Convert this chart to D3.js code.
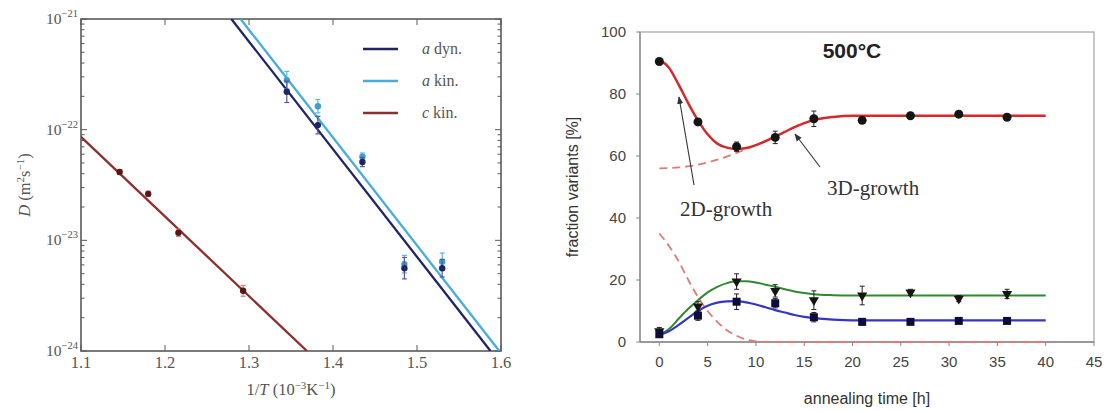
<!DOCTYPE html>
<html><head><meta charset="utf-8">
<script src="https://cdn.jsdelivr.net/npm/d3@7"></script>
<style>body{margin:0;background:#fff;} svg{display:block}</style>
</head><body>
<svg id="c" width="1107" height="411"></svg>
<script>
// ---------------- Left panel data ----------------
const invT_a = [1.345, 1.382, 1.435, 1.485, 1.530];
const D_aDyn = [2.2e-22, 1.1e-22, 5.1e-23, 5.6e-24, 5.6e-24];
const errFac_aDyn = [1.25, 1.2, 1.1, 1.25, 1.2];
const D_aKin = [2.8e-22, 1.63e-22, 5.7e-23, 6.1e-24, 6.4e-24];
const errFac_aKin = [1.2, 1.15, 1.08, 1.2, 1.2];
const invT_c = [1.146, 1.180, 1.216, 1.293];
const D_cKin = [4.15e-23, 2.63e-23, 1.17e-23, 3.5e-24];
const errFac_cKin = [1.05, 1.06, 1.08, 1.12];
const fitInvT_aDyn = [1.279, 1.5875], fitD_aDyn = [1e-21, 1e-24];
const fitInvT_aKin = [1.290, 1.598], fitD_aKin = [1e-21, 1e-24];
const fitInvT_cKin = [1.100, 1.369], fitD_cKin = [8.6e-23, 1e-24];
const xTicksLeft = [1.1, 1.2, 1.3, 1.4, 1.5, 1.6];
const yExpLeft = [-24, -23, -22, -21];
const legendLabels = [["a", " dyn."], ["a", " kin."], ["c", " kin."]];

// ---------------- Right panel data ----------------
const times = [0, 4, 8, 12, 16, 21, 26, 31, 36];
const fracCircle = [90.5, 71, 63, 66, 72, 71.5, 73, 73.5, 72.5];
const errCircle = [0.8, 1, 1.5, 2, 2.5, 1, 0.8, 0.8, 1];
const fracTri = [3.5, 11.5, 19.5, 16.5, 13.5, 15, 16, 14, 15.5];
const errTri = [1.2, 1.5, 2.5, 2, 3, 3, 1, 1, 1.5];
const fracSq = [2.5, 8.5, 13, 12.5, 8, 6.5, 6.5, 6.8, 6.8];
const errSq = [0.8, 1.5, 2.5, 1.5, 1.5, 1, 0.6, 0.6, 0.6];
const curveT = [0,1,2,3,4,5,6,7,8,9,10,11,12,13,14,15,16,18,20,25,30,35,40];
const redTotal = [91,88.5,83,77,71.5,67,64,62.7,62.3,62.6,63.5,64.8,66.3,67.8,69.3,70.6,71.6,72.6,73,73,73,73,73];
const greenFit = [2.3,4.2,7.5,10.7,13.5,16,17.8,19,19.6,19.6,19.2,18.5,17.8,17,16.3,15.8,15.4,15.1,15,15,15,15,15];
const blueFit = [2.3,3.5,5.5,7.8,10,11.7,12.7,13.1,13.2,12.8,12.1,11.2,10.3,9.5,8.7,8.1,7.7,7.2,7,7,7,7,7];
const t3D = [0, 2, 4, 6, 8, 10, 12];
const red3D = [56, 56.3, 57.2, 58.8, 61, 63.5, 66.3];
const t2D = [0,1,2,3,4,5,6,7,8,9,10,11,12,20,30,40];
const red2D = [35,31,26,20,14.5,10,6.5,3.8,2,0.8,0.2,0,0,0,0,0];
const xTicksRight = [0,5,10,15,20,25,30,35,40,45];
const yTicksRight = [0,20,40,60,80,100];

const svg = d3.select("#c");
const serif = "'Liberation Serif', 'DejaVu Serif', serif";
const sans = "Arial, 'Liberation Sans', Helvetica, sans-serif";

// ================= LEFT PANEL =================
const xL = d3.scaleLinear().domain([1.1, 1.6]).range([81, 501]);
const yL = d3.scaleLog().domain([1e-24, 1e-21]).range([351, 19]);
const gL = svg.append("g");
svg.append("clipPath").attr("id","clipL").append("rect")
  .attr("x",81).attr("y",19).attr("width",420).attr("height",332);

const frameCol = "#5a5a5a";
const yTickVals = [];
yExpLeft.forEach(e => { for (let k = 1; k <= 9; k++) { const v = k * Math.pow(10, e); if (v <= 1e-21*1.0001) yTickVals.push({v, major: k===1}); } });
yTickVals.forEach(t => {
  const y = yL(t.v), len = t.major ? 6 : 3.5;
  gL.append("line").attr("x1",81).attr("x2",81+len).attr("y1",y).attr("y2",y).attr("stroke",frameCol).attr("stroke-width",1);
  gL.append("line").attr("x1",501-len).attr("x2",501).attr("y1",y).attr("y2",y).attr("stroke",frameCol).attr("stroke-width",1);
});
xTicksLeft.forEach(v => {
  const x = xL(v);
  gL.append("line").attr("x1",x).attr("x2",x).attr("y1",351).attr("y2",345).attr("stroke",frameCol);
  gL.append("line").attr("x1",x).attr("x2",x).attr("y1",19).attr("y2",25).attr("stroke",frameCol);
  gL.append("text").attr("x", x).attr("y", 368).attr("text-anchor","middle")
    .attr("font-family", serif).attr("font-size", 16.5).attr("fill","#555").text(d3.format(".1f")(v));
});
yExpLeft.forEach(e => {
  const t = gL.append("text").attr("x", 78).attr("y", yL(Math.pow(10,e)) + 5).attr("text-anchor","end")
    .attr("font-family", serif).attr("font-size", 15.5).attr("fill","#555");
  t.append("tspan").text("10");
  t.append("tspan").attr("dy",-7).attr("font-size",10.5).text("\u2212" + Math.abs(e));
});
gL.append("rect").attr("x",81).attr("y",19).attr("width",420).attr("height",332)
  .attr("fill","none").attr("stroke",frameCol).attr("stroke-width",1.6);

const xlab = gL.append("text").attr("x", 291).attr("y", 395).attr("text-anchor","middle")
  .attr("font-family", serif).attr("font-size", 16.5).attr("fill","#555");
xlab.append("tspan").text("1/");
xlab.append("tspan").attr("font-style","italic").text("T");
xlab.append("tspan").text(" (10");
xlab.append("tspan").attr("dy",-6).attr("font-size",11).text("\u22123");
xlab.append("tspan").attr("dy",6).text("K");
xlab.append("tspan").attr("dy",-6).attr("font-size",11).text("\u22121");
xlab.append("tspan").attr("dy",6).text(")");
const ylab = gL.append("text").attr("transform","translate(30,185) rotate(-90)").attr("text-anchor","middle")
  .attr("font-family", serif).attr("font-size", 16.5).attr("fill","#555");
ylab.append("tspan").attr("font-style","italic").text("D");
ylab.append("tspan").text(" (m");
ylab.append("tspan").attr("dy",-6).attr("font-size",11).text("2");
ylab.append("tspan").attr("dy",6).text("s");
ylab.append("tspan").attr("dy",-6).attr("font-size",11).text("\u22121");
ylab.append("tspan").attr("dy",6).text(")");

const colDyn = "#1f2466", colKin = "#45aede", colC = "#8e2f2f";
const lineL = d3.line().x(d => xL(d[0])).y(d => yL(d[1]));
const gClip = gL.append("g").attr("clip-path","url(#clipL)");
[[fitInvT_aKin, fitD_aKin, colKin], [fitInvT_aDyn, fitD_aDyn, colDyn], [fitInvT_cKin, fitD_cKin, colC]].forEach(([xs, ys, c]) => {
  gClip.append("path").attr("d", lineL(xs.map((x,i)=>[x, ys[i]]))).attr("fill","none").attr("stroke",c).attr("stroke-width",2.3);
});
function leftPoints(xs, ys, fac, col, errCol) {
  xs.forEach((x, i) => {
    const px = xL(x), lo = yL(ys[i]/fac[i]), hi = yL(ys[i]*fac[i]);
    gL.append("line").attr("x1",px).attr("x2",px).attr("y1",lo).attr("y2",hi).attr("stroke",errCol).attr("stroke-width",1.2);
    [lo, hi].forEach(yy => gL.append("line").attr("x1",px-2.5).attr("x2",px+2.5).attr("y1",yy).attr("y2",yy).attr("stroke",errCol).attr("stroke-width",1.2));
    gL.append("circle").attr("cx",px).attr("cy",yL(ys[i])).attr("r",3.2).attr("fill",col);
  });
}
leftPoints(invT_c, D_cKin, errFac_cKin, "#5a1515", "#d98080");
leftPoints(invT_a, D_aKin, errFac_aKin, "#3aa0cf", "#5ab8e0");
leftPoints(invT_a, D_aDyn, errFac_aDyn, colDyn, "#555a90");

[colDyn, colKin, colC].forEach((c, i) => {
  const y = 49 + i * 32;
  gL.append("line").attr("x1",363).attr("x2",398).attr("y1",y).attr("y2",y).attr("stroke",c).attr("stroke-width",2.3);
  const t = gL.append("text").attr("x",422).attr("y",y+5).attr("font-family",serif).attr("font-size",16).attr("fill","#555");
  t.append("tspan").attr("font-style","italic").text(legendLabels[i][0]);
  t.append("tspan").text(legendLabels[i][1]);
});

// ================= RIGHT PANEL =================
const xR = d3.scaleLinear().domain([-2, 45]).range([640, 1094]);
const yR = d3.scaleLinear().domain([0, 100]).range([342, 32]);
const gR = svg.append("g");
gR.append("rect").attr("x",640).attr("y",32).attr("width",454).attr("height",310)
  .attr("fill","none").attr("stroke","#b5b5b5").attr("stroke-width",1.5);
gR.append("line").attr("x1",640).attr("x2",1094).attr("y1",342).attr("y2",342).attr("stroke","#8a8a8a").attr("stroke-width",1.5);
gR.append("line").attr("x1",640).attr("x2",640).attr("y1",32).attr("y2",342).attr("stroke","#8a8a8a").attr("stroke-width",1.3);
yTicksRight.forEach(v => {
  gR.append("line").attr("x1",636).attr("x2",640).attr("y1",yR(v)).attr("y2",yR(v)).attr("stroke","#888");
  gR.append("text").attr("x",626).attr("y",yR(v)+5).attr("text-anchor","end").attr("font-family",sans)
    .attr("font-size",15).attr("fill","#444").text(v);
});
xTicksRight.forEach(v => {
  gR.append("line").attr("x1",xR(v)).attr("x2",xR(v)).attr("y1",342).attr("y2",346).attr("stroke","#888");
  gR.append("text").attr("x",xR(v)).attr("y",367).attr("text-anchor","middle").attr("font-family",sans)
    .attr("font-size",15).attr("fill","#444").text(v);
});
gR.append("text").attr("x",867).attr("y",404).attr("text-anchor","middle").attr("font-family",sans)
  .attr("font-size",16).attr("fill","#333").text("annealing time [h]");
gR.append("text").attr("transform","translate(578,187) rotate(-90)").attr("text-anchor","middle").attr("font-family",sans)
  .attr("font-size",16).attr("fill","#333").text("fraction variants [%]");
gR.append("text").attr("x",852).attr("y",58).attr("text-anchor","middle").attr("font-family",sans)
  .attr("font-size",21).attr("font-weight","bold").attr("fill","#222").text("500°C");

const lineR = d3.line().x(d => xR(d[0])).y(d => yR(d[1])).curve(d3.curveMonotoneX);
const zipR = (ts, vs) => ts.map((t,i)=>[t, vs[i]]);
gR.append("path").attr("d", lineR(zipR(t2D, red2D))).attr("fill","none").attr("stroke","#e07a7a").attr("stroke-width",1.8).attr("stroke-dasharray","8,5");
gR.append("path").attr("d", lineR(zipR(t3D, red3D))).attr("fill","none").attr("stroke","#e07a7a").attr("stroke-width",1.8).attr("stroke-dasharray","8,5");
gR.append("path").attr("d", lineR(zipR(curveT, greenFit))).attr("fill","none").attr("stroke","#2f8a2f").attr("stroke-width",2);
gR.append("path").attr("d", lineR(zipR(curveT, blueFit))).attr("fill","none").attr("stroke","#3535c8").attr("stroke-width",2.2);
gR.append("path").attr("d", lineR(zipR(curveT, redTotal))).attr("fill","none").attr("stroke","#d42a2a").attr("stroke-width",2.5);

function errBars(vals, errs) {
  times.forEach((t, i) => {
    const x = xR(t), y1 = yR(vals[i]-errs[i]), y2 = yR(vals[i]+errs[i]);
    gR.append("line").attr("x1",x).attr("x2",x).attr("y1",y1).attr("y2",y2).attr("stroke","#222").attr("stroke-width",1);
    [y1,y2].forEach(yy => gR.append("line").attr("x1",x-2.5).attr("x2",x+2.5).attr("y1",yy).attr("y2",yy).attr("stroke","#222").attr("stroke-width",1));
  });
}
errBars(fracCircle, errCircle); errBars(fracTri, errTri); errBars(fracSq, errSq);
times.forEach((t,i) => {
  gR.append("circle").attr("cx",xR(t)).attr("cy",yR(fracCircle[i])).attr("r",4.5).attr("fill","#151515");
  gR.append("path").attr("d", d3.symbol().type(d3.symbolTriangle).size(45)())
    .attr("transform",`translate(${xR(t)},${yR(fracTri[i])}) rotate(180)`).attr("fill","#151515");
  gR.append("rect").attr("x",xR(t)-4).attr("y",yR(fracSq[i])-4).attr("width",8).attr("height",8).attr("fill","#0d0d3a");
});

const defs = svg.append("defs");
defs.append("marker").attr("id","ah").attr("viewBox","0 0 10 10").attr("refX",9).attr("refY",5)
  .attr("markerWidth",7).attr("markerHeight",7).attr("orient","auto")
  .append("path").attr("d","M0,1 L10,5 L0,9 z").attr("fill","#333");
gR.append("line").attr("x1",694).attr("y1",185).attr("x2",679).attr("y2",97).attr("stroke","#333").attr("stroke-width",1.1).attr("marker-end","url(#ah)");
gR.append("line").attr("x1",820).attr("y1",167).attr("x2",795).attr("y2",134).attr("stroke","#333").attr("stroke-width",1.1).attr("marker-end","url(#ah)");
gR.append("text").attr("x",680).attr("y",216).attr("font-family",serif).attr("font-size",21).attr("fill","#333").text("2D-growth");
gR.append("text").attr("x",827).attr("y",195).attr("font-family",serif).attr("font-size",21).attr("fill","#333").text("3D-growth");
</script>
</body></html>
